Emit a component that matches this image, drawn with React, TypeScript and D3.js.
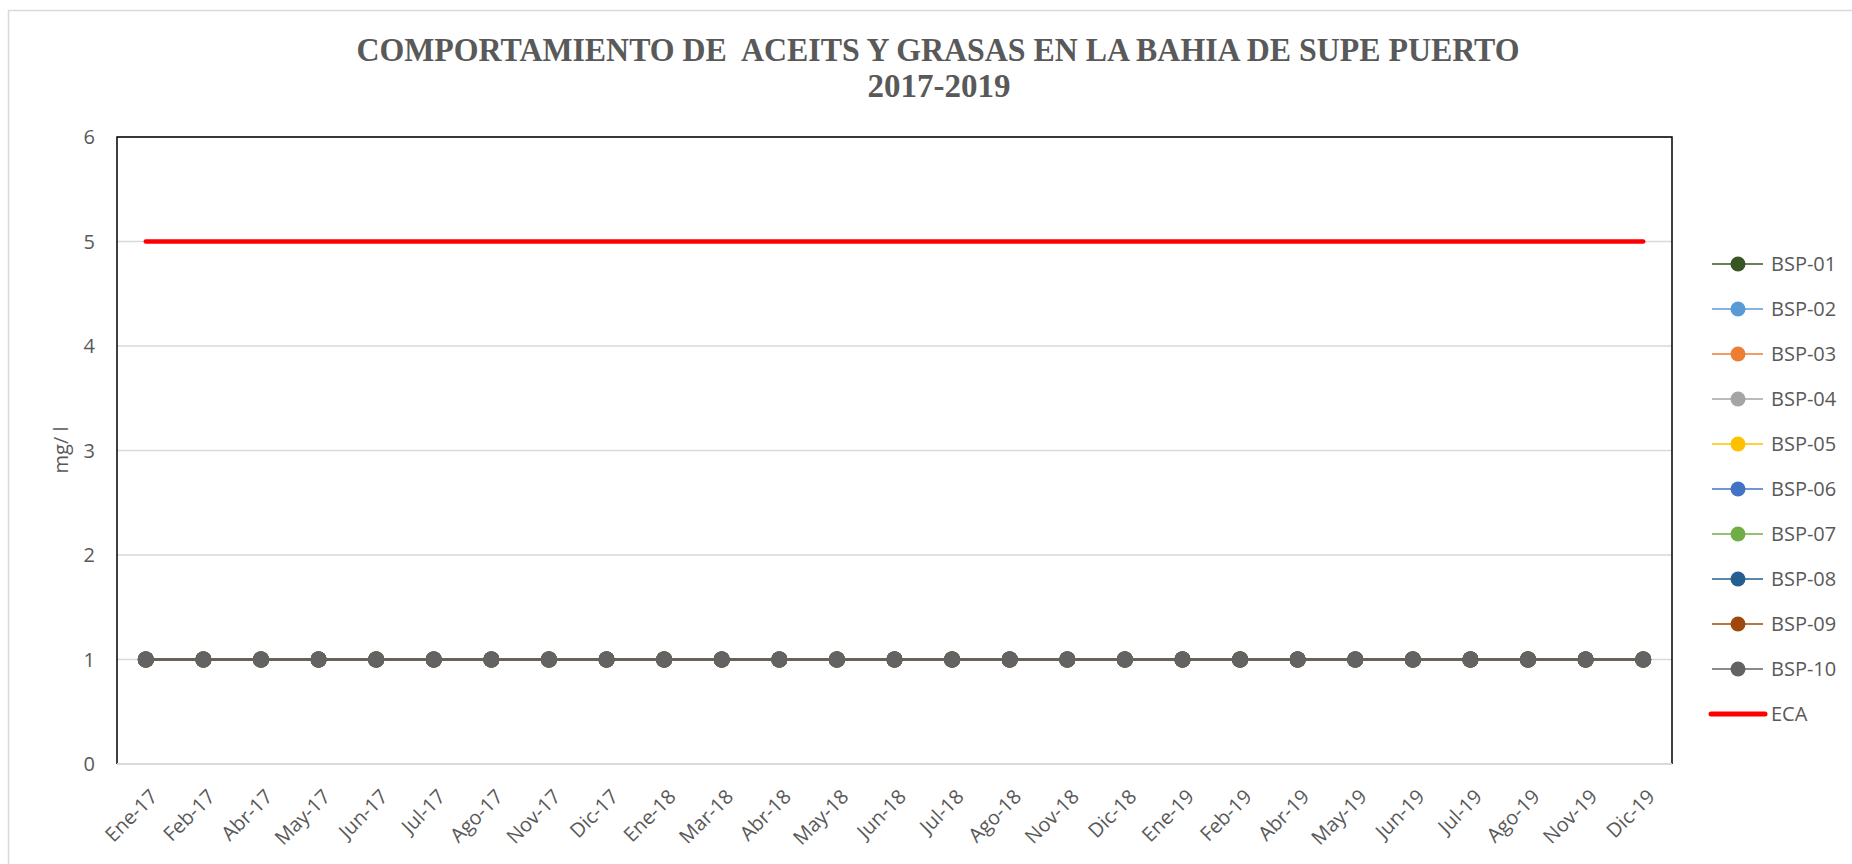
import * as d3 from 'd3';

const months = [
  'Ene-17', 'Feb-17', 'Abr-17', 'May-17', 'Jun-17', 'Jul-17', 'Ago-17', 'Nov-17', 'Dic-17',
  'Ene-18', 'Mar-18', 'Abr-18', 'May-18', 'Jun-18', 'Jul-18', 'Ago-18', 'Nov-18', 'Dic-18',
  'Ene-19', 'Feb-19', 'Abr-19', 'May-19', 'Jun-19', 'Jul-19', 'Ago-19', 'Nov-19', 'Dic-19',
];

// every station reads 1 mg/l in every month
const bsp01 = [1, 1, 1, 1, 1, 1, 1, 1, 1, 1, 1, 1, 1, 1, 1, 1, 1, 1, 1, 1, 1, 1, 1, 1, 1, 1, 1];
const bsp02 = [1, 1, 1, 1, 1, 1, 1, 1, 1, 1, 1, 1, 1, 1, 1, 1, 1, 1, 1, 1, 1, 1, 1, 1, 1, 1, 1];
const bsp03 = [1, 1, 1, 1, 1, 1, 1, 1, 1, 1, 1, 1, 1, 1, 1, 1, 1, 1, 1, 1, 1, 1, 1, 1, 1, 1, 1];
const bsp04 = [1, 1, 1, 1, 1, 1, 1, 1, 1, 1, 1, 1, 1, 1, 1, 1, 1, 1, 1, 1, 1, 1, 1, 1, 1, 1, 1];
const bsp05 = [1, 1, 1, 1, 1, 1, 1, 1, 1, 1, 1, 1, 1, 1, 1, 1, 1, 1, 1, 1, 1, 1, 1, 1, 1, 1, 1];
const bsp06 = [1, 1, 1, 1, 1, 1, 1, 1, 1, 1, 1, 1, 1, 1, 1, 1, 1, 1, 1, 1, 1, 1, 1, 1, 1, 1, 1];
const bsp07 = [1, 1, 1, 1, 1, 1, 1, 1, 1, 1, 1, 1, 1, 1, 1, 1, 1, 1, 1, 1, 1, 1, 1, 1, 1, 1, 1];
const bsp08 = [1, 1, 1, 1, 1, 1, 1, 1, 1, 1, 1, 1, 1, 1, 1, 1, 1, 1, 1, 1, 1, 1, 1, 1, 1, 1, 1];
const bsp09 = [1, 1, 1, 1, 1, 1, 1, 1, 1, 1, 1, 1, 1, 1, 1, 1, 1, 1, 1, 1, 1, 1, 1, 1, 1, 1, 1];
const bsp10 = [1, 1, 1, 1, 1, 1, 1, 1, 1, 1, 1, 1, 1, 1, 1, 1, 1, 1, 1, 1, 1, 1, 1, 1, 1, 1, 1];
const eca = [5, 5, 5, 5, 5, 5, 5, 5, 5, 5, 5, 5, 5, 5, 5, 5, 5, 5, 5, 5, 5, 5, 5, 5, 5, 5, 5];

const yTicks = [0, 1, 2, 3, 4, 5, 6];

const stations = [
  { name: 'BSP-01', values: bsp01, color: '#375623' },
  { name: 'BSP-02', values: bsp02, color: '#5B9BD5' },
  { name: 'BSP-03', values: bsp03, color: '#ED7D31' },
  { name: 'BSP-04', values: bsp04, color: '#A5A5A5' },
  { name: 'BSP-05', values: bsp05, color: '#FFC000' },
  { name: 'BSP-06', values: bsp06, color: '#4472C4' },
  { name: 'BSP-07', values: bsp07, color: '#70AD47' },
  { name: 'BSP-08', values: bsp08, color: '#255E91' },
  { name: 'BSP-09', values: bsp09, color: '#9E480E' },
  { name: 'BSP-10', values: bsp10, color: '#636363' },
];

const W = 1852;
const H = 864;
const plot = { left: 117, right: 1672, top: 137, bottom: 764 };
const TEXT = '#595959';
const FONT = '"Open Sans", "Noto Sans", sans-serif';

export default function App() {
  const x = d3.scaleBand<string>().domain(months).range([plot.left, plot.right]);
  const cx = (m: string) => (x(m) ?? 0) + x.bandwidth() / 2;
  const y = d3.scaleLinear().domain([0, 6]).range([plot.bottom, plot.top]);

  const line = d3
    .line<number>()
    .x((_, i) => cx(months[i]))
    .y(d => y(d));

  const legendX = 1712;
  const legendY0 = 264;
  const legendStep = 45;

  return (
    <svg
      width={W}
      height={H}
      style={{ position: 'absolute', left: 0, top: 0, background: '#fff' }}
      fontFamily={FONT}
    >
      <rect x={0} y={0} width={W} height={H} fill="#fff" />
      {/* outer chart frame */}
      <line x1={8} x2={W} y1={10.5} y2={10.5} stroke="#d9d9d9" strokeWidth={1.5} />
      <line x1={8.5} x2={8.5} y1={10} y2={H} stroke="#d9d9d9" strokeWidth={1.5} />

      {/* title */}
      <g fill={TEXT} fontFamily='"Liberation Serif", "Times New Roman", serif' fontWeight="bold" textAnchor="middle">
        <text
          x={938}
          y={61}
          fontSize={34}
          textLength={1163}
          lengthAdjust="spacingAndGlyphs"
          xmlSpace="preserve"
          style={{ whiteSpace: 'pre' }}
        >
          {'COMPORTAMIENTO DE  ACEITS Y GRASAS EN LA BAHIA DE SUPE PUERTO'}
        </text>
        <text x={939} y={97} fontSize={33}>2017-2019</text>
      </g>

      {/* gridlines */}
      {yTicks.map(t => (
        <line key={t} x1={plot.left} x2={plot.right} y1={y(t)} y2={y(t)} stroke="#d9d9d9" strokeWidth={1.5} />
      ))}

      {/* plot frame: black on top, left, right */}
      <path
        d={`M${plot.left},${plot.bottom}V${plot.top}H${plot.right}V${plot.bottom}`}
        fill="none"
        stroke="#000"
        strokeWidth={1.5}
      />
      <line x1={plot.left} x2={plot.right} y1={plot.bottom} y2={plot.bottom} stroke="#d9d9d9" strokeWidth={2} />

      {/* y ticks */}
      {yTicks.map(t => (
        <text key={t} x={95} y={y(t)} dy="0.35em" textAnchor="end" fontSize={20} fill={TEXT}>
          {t}
        </text>
      ))}
      <text transform={`translate(61,450) rotate(-90)`} textAnchor="middle" dy="0.35em" fontSize={20} fill={TEXT}>
        mg/ l
      </text>

      {/* x labels */}
      {months.map(m => (
        <text
          key={m}
          transform={`translate(${cx(m) + 8},793) rotate(-45)`}
          textAnchor="end"
          dy="0.35em"
          fontSize={20}
          fill={TEXT}
        >
          {m}
        </text>
      ))}

      {/* ECA */}
      <path d={line(eca) ?? ''} fill="none" stroke="#FF0000" strokeWidth={4.5} strokeLinecap="round" />

      {/* stations */}
      {stations.map(s => (
        <g key={s.name}>
          <path d={line(s.values) ?? ''} fill="none" stroke={s.color} strokeWidth={2} />
          {s.values.map((v, i) => (
            <circle key={i} cx={cx(months[i])} cy={y(v)} r={8} fill={s.color} />
          ))}
        </g>
      ))}

      {/* legend */}
      {stations.map((s, i) => {
        const ly = legendY0 + i * legendStep;
        return (
          <g key={s.name}>
            <line x1={legendX} x2={legendX + 51} y1={ly} y2={ly} stroke={s.color} strokeWidth={1.5} />
            <circle cx={legendX + 26} cy={ly} r={7.5} fill={s.color} />
            <text x={legendX + 59} y={ly} dy="0.35em" fontSize={20} fill={TEXT}>
              {s.name}
            </text>
          </g>
        );
      })}
      <line
        x1={legendX - 1}
        x2={legendX + 53}
        y1={legendY0 + 10 * legendStep}
        y2={legendY0 + 10 * legendStep}
        stroke="#FF0000"
        strokeWidth={5}
        strokeLinecap="round"
      />
      <text x={legendX + 59} y={legendY0 + 10 * legendStep} dy="0.35em" fontSize={20} fill={TEXT}>
        ECA
      </text>
    </svg>
  );
}
